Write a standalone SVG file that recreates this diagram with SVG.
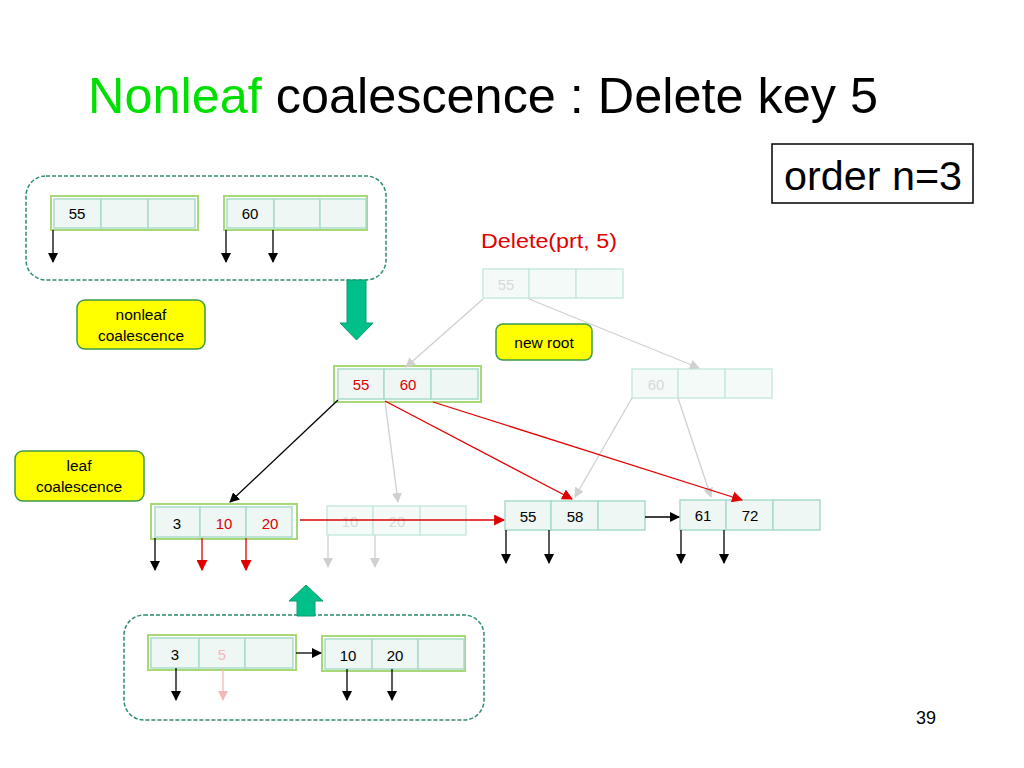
<svg xmlns="http://www.w3.org/2000/svg" width="1024" height="768" viewBox="0 0 1024 768">
<defs>
<style>
text{font-family:"Liberation Sans","DejaVu Sans",sans-serif;}
.cell{fill:#EEF7F4;stroke:#A9DCCA;stroke-width:1.5;}
.fcell{fill:#F4FAF8;stroke:#C9EADF;stroke-width:1.5;}
.frame{fill:none;stroke:#A8D878;stroke-width:2;}
.k{font-size:15px;text-anchor:middle;fill:#000;}
.kr{font-size:15px;text-anchor:middle;fill:#E00000;}
.kf{font-size:15px;text-anchor:middle;fill:#D9D9D9;}
.kp{font-size:15px;text-anchor:middle;fill:#F5B8B8;}
.note{fill:#FFFF00;stroke:#3A9A4A;stroke-width:1.5;}
.nt{font-size:15.5px;text-anchor:middle;fill:#000;}
.dash{fill:none;stroke:#2E8B6E;stroke-width:1.5;stroke-dasharray:4 2;}
.lb{stroke:#000;stroke-width:1.3;fill:none;}
.lr{stroke:#E00000;stroke-width:1.3;fill:none;}
.lg{stroke:#D0D0D0;stroke-width:1.3;fill:none;}
.lp{stroke:#F5B8B8;stroke-width:1.3;fill:none;}
.bigarrow{fill:#00C08A;stroke:#0E9B6E;stroke-width:1;}
</style>
<marker id="ab" viewBox="0 0 10 10" refX="9" refY="5" markerWidth="10" markerHeight="10" markerUnits="userSpaceOnUse" orient="auto"><path d="M0,0L10,5L0,10z" fill="#000"/></marker>
<marker id="ar" viewBox="0 0 10 10" refX="9" refY="5" markerWidth="11" markerHeight="11" markerUnits="userSpaceOnUse" orient="auto"><path d="M0,0L10,5L0,10z" fill="#E00000"/></marker>
<marker id="ag" viewBox="0 0 10 10" refX="9" refY="5" markerWidth="10" markerHeight="10" markerUnits="userSpaceOnUse" orient="auto"><path d="M0,0L10,5L0,10z" fill="#D0D0D0"/></marker>
<marker id="ap" viewBox="0 0 10 10" refX="9" refY="5" markerWidth="10" markerHeight="10" markerUnits="userSpaceOnUse" orient="auto"><path d="M0,0L10,5L0,10z" fill="#F5B8B8"/></marker>
</defs>
<rect width="1024" height="768" fill="#fff"/>

<g id="title">
<text x="88" y="113" font-size="50" textLength="790" lengthAdjust="spacingAndGlyphs"><tspan fill="#00E000">Nonleaf</tspan><tspan fill="#000"> coalescence : Delete key 5</tspan></text>
</g>
<g id="order">
<rect x="772" y="144" width="201" height="59" fill="#fff" stroke="#000" stroke-width="1.5"/>
<text x="784" y="190" font-size="40" fill="#000" textLength="178" lengthAdjust="spacingAndGlyphs">order n=3</text>
</g>
<text id="delete-label" x="481" y="248" font-size="20" fill="#E00000" textLength="136" lengthAdjust="spacingAndGlyphs">Delete(prt, 5)</text>
<text id="page" x="926" y="724" font-size="18" text-anchor="middle" fill="#000">39</text>

<g id="box-top"><rect class="dash" x="26" y="176" width="360" height="104" rx="20"/></g>
<g id="box-bottom"><rect class="dash" x="124" y="615" width="360" height="105" rx="20"/></g>

<g id="arrow-down"><path class="bigarrow" d="M347,280H366V323H373L356.5,340L340,323H347Z"/></g>
<g id="arrow-up"><path class="bigarrow" d="M297,616V601H289L306,585L323,601H315V616Z"/></g>

<g id="node-top55">
<rect class="frame" x="51" y="196" width="147" height="34"/>
<rect class="cell" x="54" y="199" width="47" height="29"/><rect class="cell" x="101" y="199" width="47" height="29"/><rect class="cell" x="148" y="199" width="47" height="29"/>
<text class="k" x="77" y="219">55</text>
</g>
<g id="node-top60">
<rect class="frame" x="224" y="196" width="143" height="34"/>
<rect class="cell" x="227" y="199" width="47" height="29"/><rect class="cell" x="274" y="199" width="46" height="29"/><rect class="cell" x="320" y="199" width="46" height="29"/>
<text class="k" x="250" y="219">60</text>
</g>

<g id="note-nonleaf">
<rect class="note" x="77" y="300" width="128" height="49" rx="8"/>
<text class="nt" x="141" y="320">nonleaf</text>
<text class="nt" x="141" y="341">coalescence</text>
</g>
<g id="note-newroot">
<rect class="note" x="496" y="324" width="96" height="36" rx="7"/>
<text class="nt" x="544" y="348">new root</text>
</g>
<g id="note-leaf">
<rect class="note" x="15" y="451" width="129" height="50" rx="8"/>
<text class="nt" x="79" y="471">leaf</text>
<text class="nt" x="79" y="492">coalescence</text>
</g>

<g id="node-oldroot">
<rect class="fcell" x="483" y="269" width="46" height="29"/><rect class="fcell" x="529" y="269" width="47" height="29"/><rect class="fcell" x="576" y="269" width="47" height="29"/>
<text class="kf" x="506" y="290">55</text>
</g>
<g id="node-newroot">
<rect class="frame" x="334" y="366" width="147" height="36"/>
<rect class="cell" x="338" y="369" width="46" height="30"/><rect class="cell" x="384" y="369" width="47" height="30"/><rect class="cell" x="431" y="369" width="47" height="30"/>
<text class="kr" x="361" y="390">55</text>
<text class="kr" x="408" y="390">60</text>
</g>
<g id="node-old60">
<rect class="fcell" x="632" y="369" width="46" height="29"/><rect class="fcell" x="678" y="369" width="47" height="29"/><rect class="fcell" x="725" y="369" width="47" height="29"/>
<text class="kf" x="656" y="390">60</text>
</g>

<g id="leaf-3-10-20">
<rect class="frame" x="151" y="504" width="146" height="35"/>
<rect class="cell" x="155" y="507" width="45" height="30"/><rect class="cell" x="200" y="507" width="46" height="30"/><rect class="cell" x="246" y="507" width="46" height="30"/>
<text class="k" x="177" y="529">3</text>
<text class="kr" x="224" y="529">10</text>
<text class="kr" x="270" y="529">20</text>
</g>
<g id="leaf-old-10-20">
<rect class="fcell" x="327" y="506" width="46" height="29"/><rect class="fcell" x="373" y="506" width="47" height="29"/><rect class="fcell" x="420" y="506" width="46" height="29"/>
<text class="kf" x="350" y="527">10</text>
<text class="kf" x="397" y="527">20</text>
</g>
<g id="leaf-55-58">
<rect class="cell" x="505" y="501" width="46" height="29"/><rect class="cell" x="551" y="501" width="47" height="29"/><rect class="cell" x="598" y="501" width="47" height="29"/>
<text class="k" x="528" y="522">55</text>
<text class="k" x="575" y="522">58</text>
</g>
<g id="leaf-61-72">
<rect class="cell" x="680" y="500" width="46" height="30"/><rect class="cell" x="726" y="500" width="47" height="30"/><rect class="cell" x="773" y="500" width="47" height="30"/>
<text class="k" x="703" y="521">61</text>
<text class="k" x="750" y="521">72</text>
</g>

<g id="bleaf-3-5">
<rect class="frame" x="148" y="635" width="148" height="35"/>
<rect class="cell" x="151" y="638" width="48" height="30"/><rect class="cell" x="199" y="638" width="46" height="30"/><rect class="cell" x="245" y="638" width="48" height="30"/>
<text class="k" x="175" y="660">3</text>
<text class="kp" x="222" y="660">5</text>
</g>
<g id="bleaf-10-20">
<rect class="frame" x="322" y="636" width="143" height="35"/>
<rect class="cell" x="325" y="639" width="47" height="30"/><rect class="cell" x="372" y="639" width="46" height="30"/><rect class="cell" x="418" y="639" width="46" height="30"/>
<text class="k" x="348" y="661">10</text>
<text class="k" x="395" y="661">20</text>
</g>

<g id="connectors">
<line class="lb" x1="53" y1="230" x2="53" y2="262" marker-end="url(#ab)"/>
<line class="lb" x1="226" y1="230" x2="226" y2="262" marker-end="url(#ab)"/>
<line class="lb" x1="273" y1="230" x2="273" y2="262" marker-end="url(#ab)"/>

<line class="lg" x1="483" y1="299" x2="406" y2="367" marker-end="url(#ag)"/>
<line class="lg" x1="529" y1="299" x2="699" y2="368" marker-end="url(#ag)"/>
<line class="lg" x1="632" y1="398" x2="575" y2="497" marker-end="url(#ag)"/>
<line class="lg" x1="678" y1="398" x2="711" y2="497" marker-end="url(#ag)"/>
<line class="lg" x1="385" y1="401" x2="398" y2="502" marker-end="url(#ag)"/>

<line class="lb" x1="338" y1="400" x2="230" y2="502" marker-end="url(#ab)"/>
<line class="lr" x1="385" y1="401" x2="572" y2="499" marker-end="url(#ar)"/>
<line class="lr" x1="433" y1="402" x2="742" y2="500" marker-end="url(#ar)"/>

<line class="lr" x1="300" y1="520" x2="504" y2="520" marker-end="url(#ar)"/>
<line class="lb" x1="645" y1="517" x2="679" y2="517" marker-end="url(#ab)"/>

<line class="lb" x1="155" y1="538" x2="155" y2="570" marker-end="url(#ab)"/>
<line class="lr" x1="202" y1="538" x2="202" y2="570" marker-end="url(#ar)"/>
<line class="lr" x1="246" y1="538" x2="246" y2="570" marker-end="url(#ar)"/>
<line class="lg" x1="328" y1="535" x2="328" y2="567" marker-end="url(#ag)"/>
<line class="lg" x1="375" y1="535" x2="375" y2="567" marker-end="url(#ag)"/>

<line class="lb" x1="506" y1="530" x2="506" y2="563" marker-end="url(#ab)"/>
<line class="lb" x1="549" y1="530" x2="549" y2="563" marker-end="url(#ab)"/>
<line class="lb" x1="681" y1="530" x2="681" y2="563" marker-end="url(#ab)"/>
<line class="lb" x1="724" y1="530" x2="724" y2="563" marker-end="url(#ab)"/>

<line class="lb" x1="296" y1="653" x2="321" y2="653" marker-end="url(#ab)"/>
<line class="lb" x1="176" y1="668" x2="176" y2="700" marker-end="url(#ab)"/>
<line class="lp" x1="223" y1="668" x2="223" y2="700" marker-end="url(#ap)"/>
<line class="lb" x1="347" y1="669" x2="347" y2="700" marker-end="url(#ab)"/>
<line class="lb" x1="392" y1="669" x2="392" y2="700" marker-end="url(#ab)"/>
</g>
</svg>
